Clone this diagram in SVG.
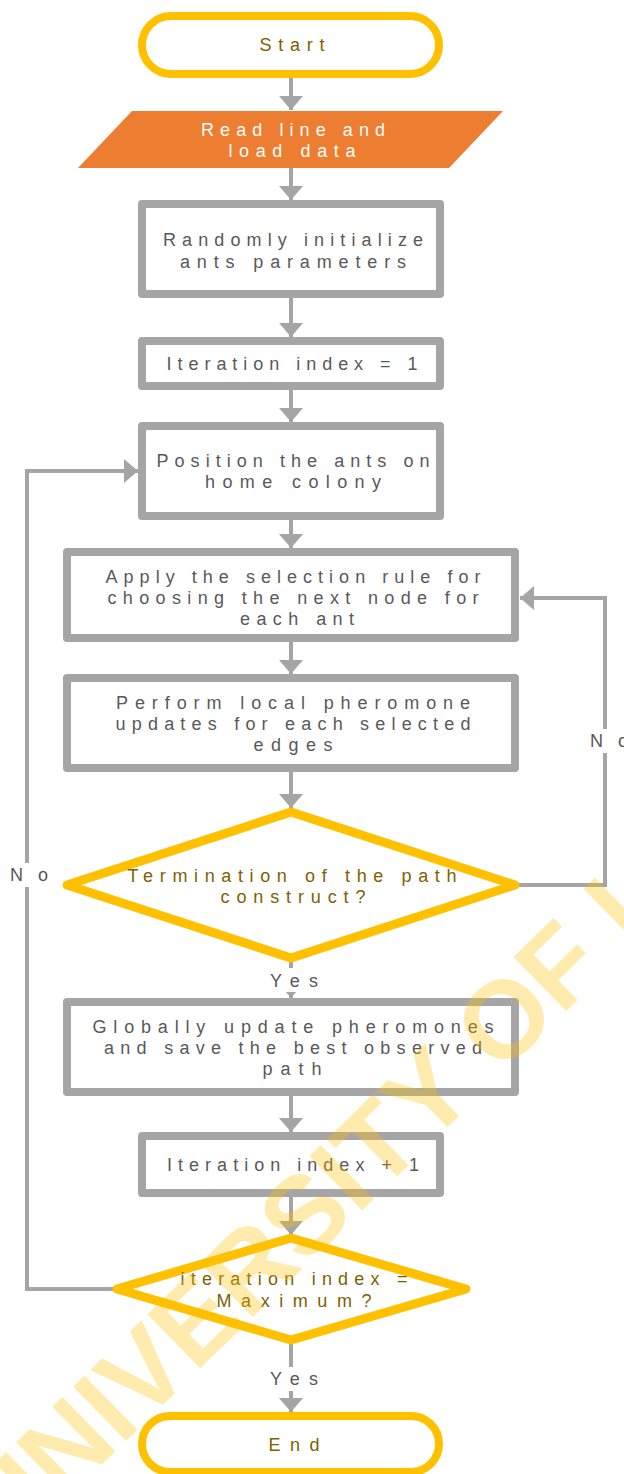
<svg xmlns="http://www.w3.org/2000/svg" width="624" height="1474" viewBox="0 0 624 1474">
<style>
.box{fill:#fff;stroke:#A5A5A5;stroke-width:8;stroke-linejoin:round}
.term{fill:#fff;stroke:#FFC000;stroke-width:8}
.dia{fill:#fff;stroke:#FFC000;stroke-width:9;stroke-linejoin:round}
.t{font-family:"Liberation Sans",Arial,sans-serif;font-size:18px;fill:#595959;text-anchor:middle}
.g{fill:#7F6000}
.w{fill:#fff}
.c{fill:none;stroke:#A5A5A5;stroke-width:4}
.lbl{fill:#fff}
.wm{font-family:"Liberation Sans",Arial,sans-serif;font-weight:bold;font-size:110px;fill:#FFC000;fill-opacity:0.32}
</style>
<defs>
<marker id="ah" viewBox="0 0 14 24" refX="14" refY="12" markerWidth="14" markerHeight="24" markerUnits="userSpaceOnUse" orient="auto">
<path d="M0,0 L14,12 L0,24 z" fill="#A5A5A5"/>
</marker>
</defs>
<rect width="624" height="1474" fill="#fff"/>

<g id="connectors">
<line class="c" x1="291" y1="78" x2="291" y2="110" marker-end="url(#ah)"/>
<line class="c" x1="291" y1="168" x2="291" y2="200" marker-end="url(#ah)"/>
<line class="c" x1="291" y1="298" x2="291" y2="337" marker-end="url(#ah)"/>
<line class="c" x1="291" y1="390" x2="291" y2="422" marker-end="url(#ah)"/>
<line class="c" x1="291" y1="520" x2="291" y2="548" marker-end="url(#ah)"/>
<line class="c" x1="291" y1="642" x2="291" y2="674" marker-end="url(#ah)"/>
<line class="c" x1="291" y1="772" x2="291" y2="808" marker-end="url(#ah)"/>
<line class="c" x1="291" y1="960" x2="291" y2="998" marker-end="url(#ah)"/>
<line class="c" x1="291" y1="1096" x2="291" y2="1132" marker-end="url(#ah)"/>
<line class="c" x1="291" y1="1197" x2="291" y2="1235" marker-end="url(#ah)"/>
<line class="c" x1="291" y1="1342" x2="291" y2="1412" marker-end="url(#ah)"/>
<path class="c" d="M515,885 H605 V598 H520" marker-end="url(#ah)"/>
<path class="c" d="M117,1289 H27 V471 H138" marker-end="url(#ah)"/>
<rect class="lbl" x="266" y="968" width="56" height="24"/>
<text class="t" x="294" y="987" textLength="48" lengthAdjust="spacing">Yes</text>
<rect class="lbl" x="266" y="1367" width="56" height="24"/>
<text class="t" x="294" y="1385" textLength="48" lengthAdjust="spacing">Yes</text>
<rect class="lbl" x="8" y="863" width="42" height="24"/>
<text class="t" x="29" y="881" textLength="38" lengthAdjust="spacing">No</text>
<rect class="lbl" x="588" y="729" width="36" height="24"/>
<text class="t" x="590" y="747" textLength="38" lengthAdjust="spacing" style="text-anchor:start">No</text>
</g>

<g id="start">
<rect class="term" x="142" y="16" width="297" height="58" rx="29"/>
<text class="t g" x="292" y="51" textLength="65" lengthAdjust="spacing">Start</text>
</g>

<g id="read">
<polygon points="132,111 503,111 449,168 78,168" fill="#ED7D31"/>
<text class="t w" x="293" y="136" textLength="184" lengthAdjust="spacing">Read line and</text>
<text class="t w" x="292" y="157" textLength="127" lengthAdjust="spacing">load data</text>
</g>

<g id="init">
<rect class="box" x="142" y="204" width="298" height="90"/>
<text class="t" x="293" y="246" textLength="260" lengthAdjust="spacing">Randomly initialize</text>
<text class="t" x="293" y="268" textLength="226" lengthAdjust="spacing">ants parameters</text>
</g>

<g id="iter1">
<rect class="box" x="142" y="341" width="298" height="45"/>
<text class="t" x="292" y="370" textLength="251" lengthAdjust="spacing">Iteration index = 1</text>
</g>

<g id="position">
<rect class="box" x="142" y="426" width="298" height="90"/>
<text class="t" x="293" y="467" textLength="273" lengthAdjust="spacing">Position the ants on</text>
<text class="t" x="293" y="488" textLength="176" lengthAdjust="spacing">home colony</text>
</g>

<g id="apply">
<rect class="box" x="67" y="552" width="448" height="86"/>
<text class="t" x="293" y="583" textLength="375" lengthAdjust="spacing">Apply the selection rule for</text>
<text class="t" x="293" y="604" textLength="371" lengthAdjust="spacing">choosing the next node for</text>
<text class="t" x="297" y="625" textLength="114" lengthAdjust="spacing">each ant</text>
</g>

<g id="perform">
<rect class="box" x="67" y="678" width="448" height="90"/>
<text class="t" x="293" y="709" textLength="354" lengthAdjust="spacing">Perform local pheromone</text>
<text class="t" x="293" y="730" textLength="355" lengthAdjust="spacing">updates for each selected</text>
<text class="t" x="293" y="751" textLength="79" lengthAdjust="spacing">edges</text>
</g>

<g id="termination">
<polygon class="dia" points="291,812 515,885 291,958 67,885"/>
<text class="t g" x="292" y="882" textLength="329" lengthAdjust="spacing">Termination of the path</text>
<text class="t g" x="293" y="903" textLength="145" lengthAdjust="spacing">construct?</text>
</g>

<g id="global">
<rect class="box" x="67" y="1002" width="448" height="90"/>
<text class="t" x="293" y="1033" textLength="401" lengthAdjust="spacing">Globally update pheromones</text>
<text class="t" x="293" y="1054" textLength="378" lengthAdjust="spacing">and save the best observed</text>
<text class="t" x="292" y="1075" textLength="59" lengthAdjust="spacing">path</text>
</g>

<g id="iterplus">
<rect class="box" x="142" y="1136" width="298" height="57"/>
<text class="t" x="293" y="1171" textLength="252" lengthAdjust="spacing">Iteration index + 1</text>
</g>

<g id="maxcheck">
<polygon class="dia" points="291,1238 466,1289 291,1340 117,1289"/>
<text class="t g" x="294" y="1285" textLength="227" lengthAdjust="spacing">iteration index =</text>
<text class="t g" x="294" y="1307" textLength="155" lengthAdjust="spacing">Maximum?</text>
</g>

<g id="end">
<rect class="term" x="142" y="1416" width="297" height="56" rx="28"/>
<text class="t g" x="294" y="1451" textLength="51" lengthAdjust="spacing">End</text>
</g>

<text class="wm" x="7" y="1557" transform="rotate(-44.3 7 1557)">UNIVERSITY OF I</text>
</svg>
